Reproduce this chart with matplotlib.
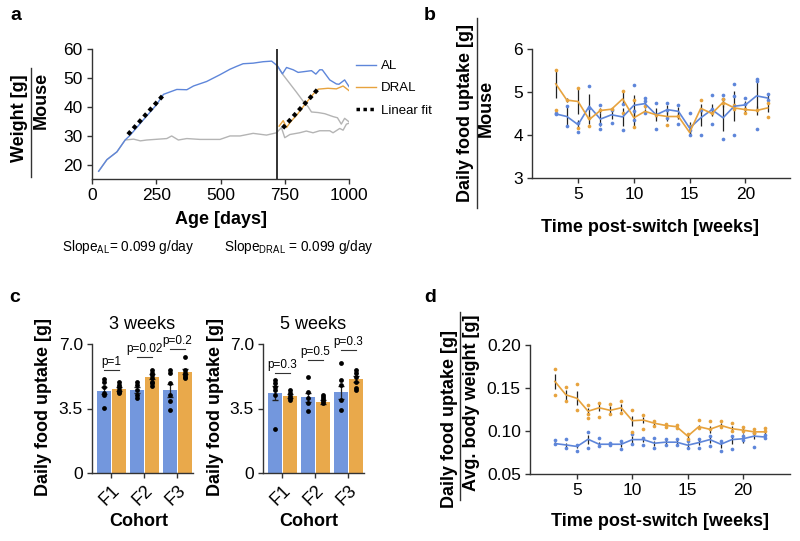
import matplotlib
matplotlib.use('Agg')
import matplotlib.pyplot as plt
from matplotlib.lines import Line2D
import numpy as np

plt.rcParams['font.family'] = ['Liberation Sans', 'DejaVu Sans']
plt.rcParams['mathtext.fontset'] = 'custom'
plt.rcParams['mathtext.rm'] = 'Liberation Sans'

BLUE = '#5E86DA'
ORANGE = '#E7A33E'
BAR_BLUE = '#7397DD'
BAR_ORANGE = '#E9A94B'
GRAY = '#B4B4B4'

# ---------------- panel a data ----------------
al_day = [26, 58, 97, 129, 149, 200, 250, 278, 330, 369, 395, 446, 498, 537, 563, 588,
          627, 666, 699, 721, 741, 757, 783, 802, 854, 871, 886, 896, 925, 951, 961, 983, 1000]
al_w = [17.7, 21.7, 24.4, 28.5, 30.2, 35.5, 40.6, 44.3, 46.0, 45.9, 47.2, 48.75, 51.1, 53.0, 54.0, 54.9,
        55.1, 55.6, 55.8, 54.2, 51.4, 53.6, 52.8, 51.9, 52.5, 51.3, 52.8, 52.8, 49.3, 47.9, 47.8, 49.3, 47.0]
gray_low_day = [26, 58, 97, 129, 162, 188, 213, 291, 310, 336, 369, 420, 498, 537, 576, 627, 679,
                718, 737, 750, 770, 808, 834, 860, 886, 925, 938, 964, 977, 990, 1000]
gray_low_w = [17.7, 21.7, 24.4, 28.5, 28.8, 28.2, 28.5, 29.0, 29.9, 28.5, 29.0, 28.7, 28.7, 29.9, 29.9, 30.8, 30.2,
              31.0, 32.8, 29.3, 30.4, 31.0, 31.6, 31.0, 31.7, 31.7, 31.0, 32.5, 31.9, 34.0, 34.3]
gray_up_day = [721, 744, 770, 796, 821, 841, 854, 880, 906, 938, 955, 970, 983, 1000]
gray_up_w = [54.2, 51.0, 48.0, 45.0, 42.0, 40.0, 38.2, 38.0, 37.6, 36.6, 36.2, 34.0, 36.0, 34.8]
dral_day = [728, 744, 757, 770, 800, 830, 860, 880, 918, 951, 977, 1000]
dral_w = [33.3, 35.2, 32.8, 34.5, 37.5, 41.0, 44.3, 46.1, 46.4, 46.2, 47.2, 45.6]
fit_al_x = [140, 281]
fit_al_y = [30.4, 44.4]
fit_dral_x = [742, 882]
fit_dral_y = [32.6, 46.4]
switch_day = 720

# ---------------- panel b data ----------------
weeks = list(range(3, 23))
b_al_mean = [4.49, 4.43, 4.24, 4.67, 4.37, 4.47, 4.42, 4.69, 4.73, 4.47, 4.59, 4.55, 4.16, 4.40,
             4.59, 4.40, 4.67, 4.70, 4.91, 4.86]
b_dral_mean = [5.19, 4.81, 4.78, 4.36, 4.57, 4.60, 4.84, 4.40, 4.55, 4.47, 4.43, 4.43, 4.06, 4.62,
               4.50, 4.76, 4.63, 4.59, 4.57, 4.63]
b_al_err = [0.03, 0.23, 0.10, 0.28, 0.15, 0.10, 0.20, 0.25, 0.10, 0.15, 0.10, 0.10, 0.15, 0.20,
            0.12, 0.30, 0.35, 0.10, 0.35, 0.10]
b_dral_err = [0.32, 0.05, 0.30, 0.10, 0.05, 0.03, 0.15, 0.20, 0.05, 0.05, 0.10, 0.05, 0.05, 0.10,
              0.05, 0.10, 0.05, 0.05, 0.10, 0.10]
b_al_pts = [[4.51, 4.48], [4.68, 4.22], [4.28, 4.08], [5.15, 4.62], [4.69, 4.26, 4.15], [4.59, 4.27],
            [4.71, 4.12], [5.17, 4.55, 4.36], [4.86, 4.78, 4.50], [4.74, 4.15], [4.74, 4.59, 4.40],
            [4.69, 4.26], [4.52, 4.12, 3.99], [4.59, 3.99], [4.94, 4.60, 4.26], [4.94, 4.84, 3.90],
            [5.18, 4.90, 4.00], [4.86, 4.71], [5.31, 5.25, 4.15], [4.96, 4.82]]
b_dral_pts = [[5.52, 4.57], [4.81], [5.09, 4.16], [4.20, 4.40], [4.57], [4.60], [5.02, 4.51],
              [4.82, 4.19], [4.67], [4.47], [4.23], [4.45], [4.20], [4.81], [4.50], [4.84, 4.74],
              [4.70, 4.60], [4.51, 4.60], [4.57], [4.74, 4.43]]

# ---------------- panel c data ----------------
cohorts = ['F1', 'F2', 'F3']
c3_al = [4.47, 4.50, 4.50]
c3_dral = [4.56, 5.23, 5.50]
c3_al_err = [0.20, 0.15, 0.35]
c3_dral_err = [0.10, 0.12, 0.15]
c3_al_pts = [[5.09, 4.96, 4.69, 4.33, 4.24, 3.52], [4.96, 4.78, 4.51, 4.24, 4.06],
             [5.59, 5.41, 4.87, 4.24, 3.88, 3.43]]
c3_dral_pts = [[4.96, 4.78, 4.69, 4.51, 4.42, 4.33], [5.59, 5.45, 5.32, 5.14, 4.96, 4.87, 4.73],
               [6.31, 5.59, 5.45, 5.32, 5.23, 5.14]]
c3_p = ['p=1', 'p=0.02', 'p=0.2']
c3_p_y = [5.59, 6.31, 6.73]
c5_al = [4.33, 4.10, 4.38]
c5_dral = [4.19, 3.84, 5.10]
c5_al_err = [0.38, 0.25, 0.35]
c5_dral_err = [0.10, 0.10, 0.15]
c5_al_pts = [[5.05, 4.87, 4.69, 4.51, 4.24, 2.38], [5.23, 4.42, 4.06, 3.79, 3.34],
             [5.95, 5.05, 4.78, 3.97, 3.43]]
c5_dral_pts = [[4.51, 4.33, 4.19, 4.06, 3.97], [4.24, 4.11, 4.00, 3.88, 3.79],
               [5.59, 5.41, 5.23, 4.96, 4.60, 4.51]]
c5_p = ['p=0.3', 'p=0.5', 'p=0.3']
c5_p_y = [5.41, 6.13, 6.68]

# ---------------- panel d data ----------------
d_al_mean = [0.0854, 0.0838, 0.0820, 0.0904, 0.0846, 0.0846, 0.0846, 0.0900, 0.0900, 0.0858, 0.0870,
             0.0870, 0.0835, 0.0865, 0.0900, 0.0846, 0.0900, 0.0910, 0.0940, 0.0930]
d_dral_mean = [0.1577, 0.1420, 0.1380, 0.1230, 0.1270, 0.1240, 0.1270, 0.1120, 0.1127, 0.1090, 0.1065,
               0.1050, 0.0940, 0.1050, 0.1020, 0.1065, 0.1027, 0.1010, 0.0990, 0.0990]
d_al_err = [0.002, 0.002, 0.002, 0.005, 0.003, 0.002, 0.003, 0.004, 0.003, 0.003, 0.003, 0.003,
            0.003, 0.003, 0.004, 0.004, 0.005, 0.005, 0.003, 0.002]
d_dral_err = [0.009, 0.006, 0.008, 0.004, 0.004, 0.005, 0.004, 0.006, 0.003, 0.003, 0.003, 0.002,
              0.003, 0.002, 0.004, 0.003, 0.003, 0.003, 0.002, 0.002]
d_al_pts = [[0.0896, 0.0854], [0.0904, 0.0808], [0.0835, 0.0769], [0.0988, 0.0808], [0.0923, 0.0827],
            [0.0865, 0.0835], [0.0885, 0.0788], [0.0962, 0.0846], [0.0923, 0.0835], [0.0923, 0.0808],
            [0.0904, 0.0835], [0.0904, 0.0835], [0.0885, 0.0808], [0.0904, 0.0808], [0.0942, 0.0827],
            [0.0885, 0.0769], [0.0942, 0.0796], [0.0942, 0.0896], [0.0981, 0.0819], [0.0950, 0.0923]]
d_dral_pts = [[0.1723, 0.1423], [0.1508, 0.1346], [0.1550, 0.1242], [0.1308, 0.1192, 0.1154],
              [0.1327, 0.1165], [0.1315, 0.1192], [0.1346, 0.1204], [0.1250, 0.0988], [0.1181, 0.1019],
              [0.1115, 0.1058], [0.1077, 0.1050], [0.1065, 0.1038], [0.0962, 0.0904], [0.1127, 0.1038],
              [0.1115, 0.1019], [0.1115, 0.1050], [0.1096, 0.1000], [0.1050, 0.1000], [0.1027, 0.0981],
              [0.1038, 0.1000]]

# ---------------- figure ----------------
W, H = 800, 541
fig = plt.figure(figsize=(8, 5.41), dpi=100)
LBL = 13
TICK = 12.5


def rect(l, t, r, b):
    return [l / W, 1 - b / H, (r - l) / W, (b - t) / H]


def fx(x):
    return x / W


def fy(y):
    return 1 - y / H


def style(ax, size=TICK):
    for s in ['top', 'right']:
        ax.spines[s].set_visible(False)
    for s in ['left', 'bottom']:
        ax.spines[s].set_color('#333333')
        ax.spines[s].set_linewidth(1.0)
    ax.tick_params(direction='out', length=3.6, width=1, pad=3, labelsize=size, color='#333333')


def frac_label(x1, x2, xline, ytop, ybot, top, bottom, yc1, yc2, size=LBL):
    fig.text(fx(x1), fy(yc1), top, rotation=90, ha='center', va='center', fontsize=size, fontweight='bold')
    fig.text(fx(x2), fy(yc2), bottom, rotation=90, ha='center', va='center', fontsize=size, fontweight='bold')
    fig.add_artist(Line2D([fx(xline), fx(xline)], [fy(ytop), fy(ybot)], color='#333333', lw=1,
                          transform=fig.transFigure))


# ---- panel a ----
axa = fig.add_axes(rect(92, 49, 349, 179))
style(axa)
axa.plot(gray_low_day, gray_low_w, color=GRAY, lw=1)
axa.plot(gray_up_day, gray_up_w, color=GRAY, lw=1)
axa.plot(al_day, al_w, color=BLUE, lw=1)
axa.plot(dral_day, dral_w, color=ORANGE, lw=1)
axa.axvline(switch_day, color='#222222', lw=1.3)
axa.plot(fit_al_x, fit_al_y, color='black', lw=3, ls=(0, (1, 0.9)))
axa.plot(fit_dral_x, fit_dral_y, color='black', lw=3, ls=(0, (1, 0.9)))
axa.set_xlim(0, 1000)
axa.set_ylim(15, 60)
axa.set_xticks([0, 250, 500, 750, 1000])
axa.set_yticks([20, 30, 40, 50, 60])
fig.text(fx(221), fy(220), 'Age [days]', ha='center', va='center', fontsize=LBL, fontweight='bold')
frac_label(20, 41, 31, 68, 177, 'Weight [g]', 'Mouse', 118, 100)
handles = [Line2D([], [], color=BLUE, lw=1), Line2D([], [], color=ORANGE, lw=1),
           Line2D([], [], color='black', lw=2.5, ls=(0, (1, 1)))]
fig.legend(handles, ['AL', 'DRAL', 'Linear fit'], loc='upper left', bbox_to_anchor=(fx(356), fy(60)),
           frameon=False, fontsize=9.5, handlelength=1.5, handletextpad=0.4, labelspacing=0.75,
           borderaxespad=0, borderpad=0)
fig.text(fx(62), fy(251), r'Slope$_{\mathregular{AL}}$= 0.099 g/day', ha='left', va='baseline', fontsize=9.8)
fig.text(fx(224), fy(251), r'Slope$_{\mathregular{DRAL}}$ = 0.099 g/day', ha='left', va='baseline', fontsize=9.8)

# ---- panel b ----
axb = fig.add_axes(rect(532, 49, 790, 178))
style(axb)
for w, pa, pd in zip(weeks, b_al_pts, b_dral_pts):
    axb.scatter([w] * len(pa), pa, s=7, color=BLUE, zorder=3, linewidths=0)
    axb.scatter([w] * len(pd), pd, s=7, color=ORANGE, zorder=3, linewidths=0)
axb.vlines(weeks, np.array(b_al_mean) - np.array(b_al_err), np.array(b_al_mean) + np.array(b_al_err),
           color='#222222', lw=0.9, zorder=2)
axb.vlines(weeks, np.array(b_dral_mean) - np.array(b_dral_err), np.array(b_dral_mean) + np.array(b_dral_err),
           color='#222222', lw=0.9, zorder=2)
axb.plot(weeks, b_al_mean, color=BLUE, lw=1.2, zorder=4)
axb.plot(weeks, b_dral_mean, color=ORANGE, lw=1.2, zorder=4)
axb.set_xlim(0.87, 24.0)
axb.set_ylim(3, 6)
axb.set_yticks([3, 4, 5, 6])
axb.set_xticks([5, 10, 15, 20])
fig.text(fx(650), fy(227), 'Time post-switch [weeks]', ha='center', va='center', fontsize=LBL, fontweight='bold')
frac_label(465, 486, 477, 18, 208, 'Daily food uptake [g]', 'Mouse', 113, 108)


# ---- panel c ----
def bar_panel(rc, title, al, dral, al_err, dral_err, al_pts, dral_pts, ptxt, py):
    ax = fig.add_axes(rc)
    style(ax, 12.5)
    x = np.arange(len(cohorts))
    off, bw = 0.225, 0.43
    ax.bar(x - off, al, bw, color=BAR_BLUE, zorder=1)
    ax.bar(x + off, dral, bw, color=BAR_ORANGE, zorder=1)
    ax.errorbar(x - off, al, yerr=al_err, fmt='none', ecolor='#222222', elinewidth=0.9, capsize=2, zorder=2)
    ax.errorbar(x + off, dral, yerr=dral_err, fmt='none', ecolor='#222222', elinewidth=0.9, capsize=2, zorder=2)
    for i in range(len(cohorts)):
        ax.scatter([x[i] - off] * len(al_pts[i]), al_pts[i], s=12, color='black', zorder=3, linewidths=0)
        ax.scatter([x[i] + off] * len(dral_pts[i]), dral_pts[i], s=12, color='black', zorder=3, linewidths=0)
        ax.plot([x[i] - off, x[i] + off], [py[i], py[i]], color='#333333', lw=0.8, clip_on=False)
        ax.text(x[i], py[i] + 0.12, ptxt[i], ha='center', va='bottom', fontsize=8.5, clip_on=False)
    ax.set_xlim(-0.58, 2.47)
    ax.set_ylim(0, 7.0)
    ax.set_yticks([0, 3.5, 7.0])
    ax.set_yticklabels(['0', '3.5', '7.0'])
    ax.set_xticks(x)
    ax.set_xticklabels(cohorts, rotation=45, ha='right', rotation_mode='anchor')
    ax.tick_params(axis='x', labelsize=13)
    ax.set_title(title, fontsize=13, pad=11)
    return ax


bar_panel(rect(92, 344, 193, 473), '3 weeks', c3_al, c3_dral, c3_al_err, c3_dral_err,
          c3_al_pts, c3_dral_pts, c3_p, c3_p_y)
bar_panel(rect(263, 344, 364, 473), '5 weeks', c5_al, c5_dral, c5_al_err, c5_dral_err,
          c5_al_pts, c5_dral_pts, c5_p, c5_p_y)
fig.text(fx(44), fy(407), 'Daily food uptake [g]', rotation=90, ha='center', va='center', fontsize=LBL, fontweight='bold')
fig.text(fx(215), fy(407), 'Daily food uptake [g]', rotation=90, ha='center', va='center', fontsize=LBL, fontweight='bold')
fig.text(fx(139), fy(521), 'Cohort', ha='center', va='center', fontsize=LBL, fontweight='bold')
fig.text(fx(309), fy(521), 'Cohort', ha='center', va='center', fontsize=LBL, fontweight='bold')

# ---- panel d ----
axd = fig.add_axes(rect(530, 345, 790, 474))
style(axd)
for w, pa, pd in zip(weeks, d_al_pts, d_dral_pts):
    axd.scatter([w] * len(pa), pa, s=7, color=BLUE, zorder=3, linewidths=0)
    axd.scatter([w] * len(pd), pd, s=7, color=ORANGE, zorder=3, linewidths=0)
axd.vlines(weeks, np.array(d_al_mean) - np.array(d_al_err), np.array(d_al_mean) + np.array(d_al_err),
           color='#222222', lw=0.9, zorder=2)
axd.vlines(weeks, np.array(d_dral_mean) - np.array(d_dral_err), np.array(d_dral_mean) + np.array(d_dral_err),
           color='#222222', lw=0.9, zorder=2)
axd.plot(weeks, d_al_mean, color=BLUE, lw=1.2, zorder=4)
axd.plot(weeks, d_dral_mean, color=ORANGE, lw=1.2, zorder=4)
axd.set_xlim(0.75, 24.25)
axd.set_ylim(0.05, 0.20)
axd.set_yticks([0.05, 0.10, 0.15, 0.20])
axd.set_yticklabels(['0.05', '0.10', '0.15', '0.20'])
axd.set_xticks([5, 10, 15, 20])
fig.text(fx(660), fy(522), 'Time post-switch [weeks]', ha='center', va='center', fontsize=LBL, fontweight='bold')
frac_label(449, 471, 460, 312, 500, 'Daily food uptake [g]', 'Avg. body weight [g]', 419, 403)

# panel letters
for lab, x, y in [('a', 16, 15), ('b', 430, 15), ('c', 15, 297), ('d', 430, 297)]:
    fig.text(fx(x), fy(y), lab, ha='center', va='center', fontsize=14, fontweight='bold')

fig.savefig('out.png', dpi=100)
